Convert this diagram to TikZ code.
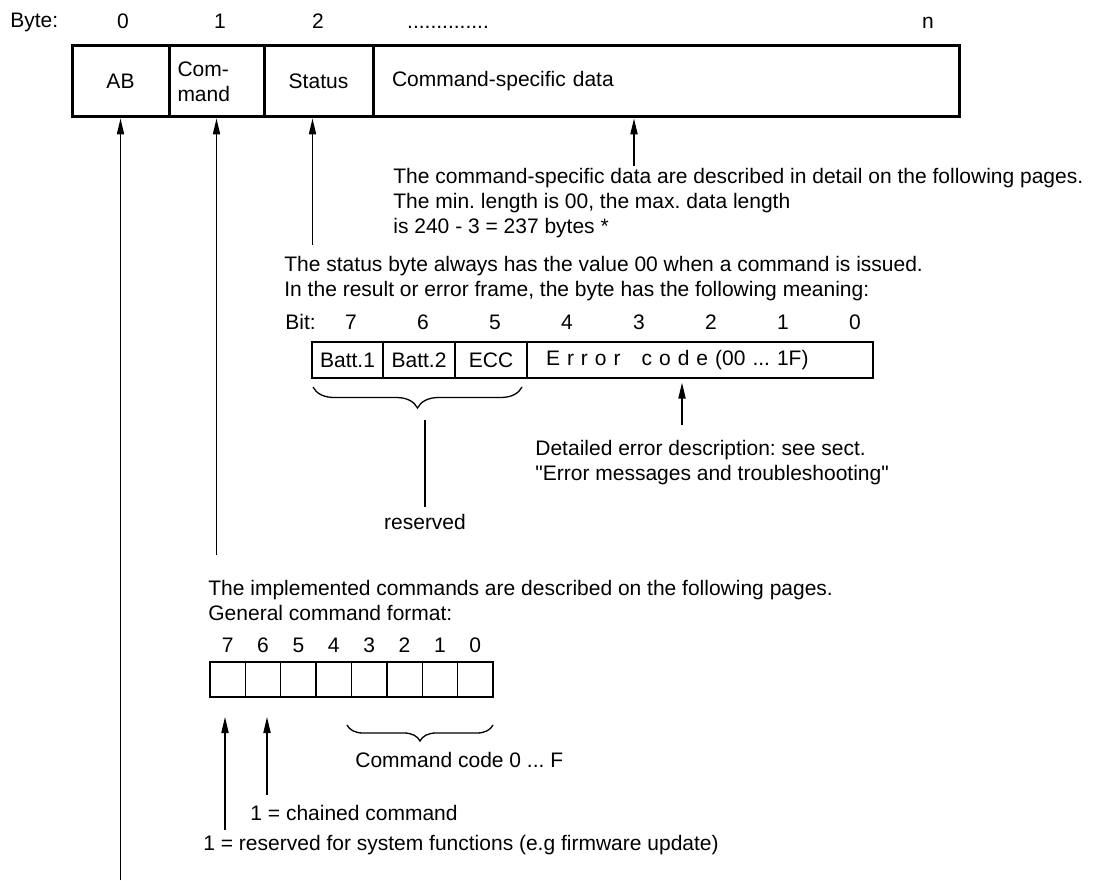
\documentclass[tikz,border=0pt]{standalone}
\usepackage{fontspec}
\setmainfont{Liberation Sans}
\usetikzlibrary{arrows.meta,positioning,decorations.pathreplacing}
\frenchspacing

\tikzset{
  frame/.style={draw, line width=1.5pt, minimum height=35.5pt, inner sep=0pt},
  bitbox/.style={draw, line width=0.65pt, minimum height=18pt, inner sep=0pt},
  cmdbit/.style={draw, line width=0.65pt, minimum width=17.7pt, minimum height=17.5pt},
  txt/.style={inner sep=0pt, align=left},
  pointer/.style={-{Triangle[length=8pt,width=3.6pt]}, line width=0.65pt},
  curly/.style={decorate, decoration={brace, mirror, amplitude=#1}, line width=0.65pt},
}

\begin{document}
\begin{tikzpicture}[x=0.5pt, y=-0.5pt, font=\fontsize{10.5pt}{12.5pt}\selectfont]

\useasboundingbox (0,0) rectangle (1096,881); %% page size

%% byte numbers
\node[anchor=base west, inner sep=0pt] (bytelbl) at (10,28) {Byte:};
\node[anchor=base] (byte0) at (123,29) {0};
\node[anchor=base] (byte1) at (220,29) {1};
\node[anchor=base] (byte2) at (318,29) {2};
\node[anchor=base] (bytedots) at (448,29) {..............};
\node[anchor=base] (byten) at (928,29) {n};

%% the frame
\node[frame, minimum width=48.5pt] (ab) at (120.5,81.5) {AB};
\node[frame, minimum width=47.5pt, text width=39pt, align=left] (cmd) at (216.5,81.5) {Com-\\mand};
\node[frame, minimum width=54.5pt] (st) at (318.5,81.5) {Status};
\node[frame, minimum width=293pt, text width=274pt, align=left] (data) at (666,81.5) {Command-specific data};

%% data
\coordinate (datatail) at (634,166);
\draw[pointer] (datatail) -- ([xshift=-16pt]data.south);
\node[txt, anchor=north west] (datatxt) at (393,168)
{The command-specific data are described in detail on the following pages.\\
The min. length is 00, the max. data length\\
is 240 - 3 = 237 bytes *};

%% status byte
\coordinate (sttail) at (312.5,245);
\draw[pointer] (sttail) -- ([xshift=-3pt]st.south);
\node[txt, anchor=north west] (sttxt) at (284,256)
{The status byte always has the value 00 when a command is issued.\\
In the result or error frame, the byte has the following meaning:};

\node[anchor=base west, inner sep=0pt] (bitlbl) at (285,330) {Bit:};
\foreach \b [count=\k from 0] in {7,...,0}
  \node[anchor=base] (bit\b) at ({351+72*\k},330) {\b};

\node[bitbox, minimum width=35.5pt] (batt1) at (347.5,360) {Batt.1};
\node[bitbox, minimum width=36pt] (batt2) at (419,360) {Batt.2};
\node[bitbox, minimum width=36pt] (ecc) at (491,360) {ECC};
\node[bitbox, minimum width=173pt, text width=154pt, align=left] (err) at (700,360)
{E r r o r\ \ \ c o d e (00 ... 1F)};

\draw[curly=10.5pt] (313,387) -- (522,387);
\coordinate (rtop) at (425,420);
\node[anchor=north] (resv) at (425,507) {reserved};
\draw[line width=0.65pt] (rtop) -- (resv.north);

\coordinate (errtail) at (682,425);
\draw[pointer, shorten >=2pt] (errtail) -- ([xshift=-9pt]err.south);
\node[txt, anchor=north west] (errtxt) at (535,440)
{Detailed error description: see sect.\\
\textquotedbl Error messages and troubleshooting\textquotedbl};

%% command byte
\coordinate (cmdtail) at (216.5,555);
\draw[pointer] (cmdtail) -- (cmd.south);
\node[txt, anchor=north west] (cmdtxt) at (208,580)
{The implemented commands are described on the following pages.\\
General command format:};

\foreach \b [count=\k from 0] in {7,...,0}{
  \node[cmdbit] (c\b) at ({227.7+35.375*\k},679.5) {};
  \node[above=1pt of c\b] (n\b) {\b};
}

\draw[curly=8pt] (347,725) -- (493,725);
\node[anchor=base west, inner sep=0pt] (codetxt) at (355,767) {Command code 0 ... F};

\coordinate (h7) at (225,717);
\coordinate (t7) at (225,830);
\coordinate (h6) at (267,717);
\coordinate (t6) at (267,795);
\draw[pointer] (t7) -- (h7);
\draw[pointer] (t6) -- (h6);
\node[anchor=base west, inner sep=0pt] (chaintxt) at (250,820) {1 = chained command};
\node[anchor=base west, inner sep=0pt] (systxt) at (203,850)
{1 = reserved for system functions (e.g firmware update)};

%% AB
\coordinate (abtail) at (120.5,880);
\draw[pointer] (abtail) -- (ab.south);

\end{tikzpicture}
\end{document}
